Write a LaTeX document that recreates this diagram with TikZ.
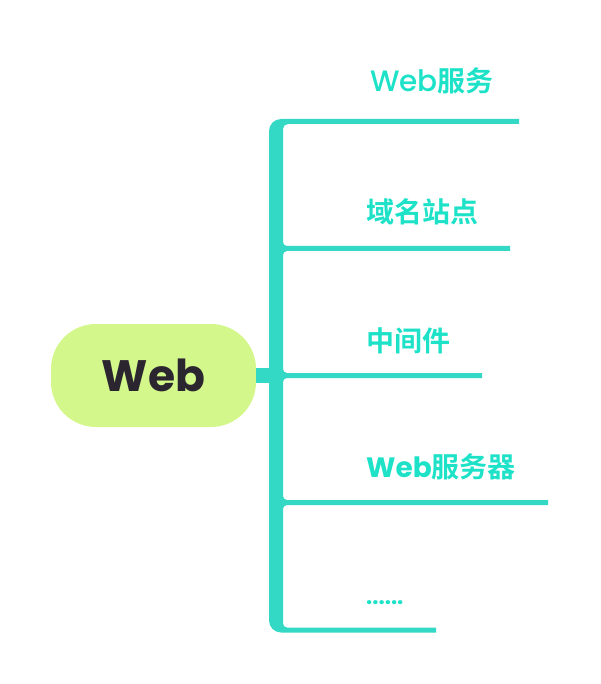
\documentclass[tikz,border=0pt]{standalone}
\usepackage{fontspec}
\setmainfont{Poppins}
\newfontfamily\popb{Poppins}[UprightFont=* Bold]
\newfontfamily\popm{Poppins}[UprightFont=* Medium]
\newfontfamily\cjk{Noto Sans CJK SC}[UprightFont=* Bold]
\definecolor{branchc}{HTML}{33D9C4}
\definecolor{labelc}{HTML}{1DE2C8}
\definecolor{rootfill}{HTML}{D3F78A}
\definecolor{roottext}{HTML}{2B2530}
\tikzset{
  rootbox/.style={rectangle, rounded corners=45pt, fill=rootfill, minimum width=205pt, minimum height=103pt, inner sep=0pt, text=roottext, font=\popb\fontsize{44}{44}\selectfont},
  lbl/.style={anchor=base west, inner sep=0pt, text=labelc, font=\fontsize{28}{28}\selectfont},
  branchfill/.style={fill=branchc},
}
\begin{document}
\begin{tikzpicture}[x=1pt,y=-1pt]
\useasboundingbox (0,0) rectangle (600,684);
% root
\node[rootbox] (web) at (153.5,375.5) {Web};
% labels
\node[lbl] (l1) at (370,91.5) {{\popm\fontsize{29.5}{29.5}\selectfont Web}{\cjk 服务}};
\node[lbl] (l2) at (366,223) {\cjk 域名站点};
\node[lbl] (l3) at (366,351) {\cjk 中间件};
\node[lbl] (l4) at (366,477) {{\popb Web}{\cjk 服务器}};
\node[lbl] (l5) at (366,604) {\popb\fontsize{22}{22}\selectfont ......};
% spine with branches
\coordinate (spine) at (276,375.5);
\fill[branchfill]
  (269,131) .. controls (269,124.4) and (274.4,119) .. (281,119)
  -- (519,119) -- (519,124) -- (288,124)
  .. controls (285.2,124) and (283,126.2) .. (283,129)
  -- (283,242) .. controls (283,244.2) and (284.8,246) .. (287,246)
  -- (510,246) -- (510,251) -- (287,251)
  .. controls (284.8,251) and (283,252.8) .. (283,255)
  -- (283,369) .. controls (283,371.2) and (284.8,373) .. (287,373)
  -- (482,373) -- (482,378) -- (287,378)
  .. controls (284.8,378) and (283,379.8) .. (283,382)
  -- (283,496) .. controls (283,498.2) and (284.8,500) .. (287,500)
  -- (548,500) -- (548,505) -- (287,505)
  .. controls (284.8,505) and (283,506.8) .. (283,509)
  -- (283,623.5) .. controls (283,625.7) and (284.8,627.5) .. (287,627.5)
  -- (436,627.5) -- (436,632.5) -- (281,632.5)
  .. controls (274.4,632.5) and (269,627.1) .. (269,620.5)
  -- cycle;
% connector from root to spine
\draw[branchc, line width=15pt] (web.east) -- (spine);
\end{tikzpicture}
\end{document}
